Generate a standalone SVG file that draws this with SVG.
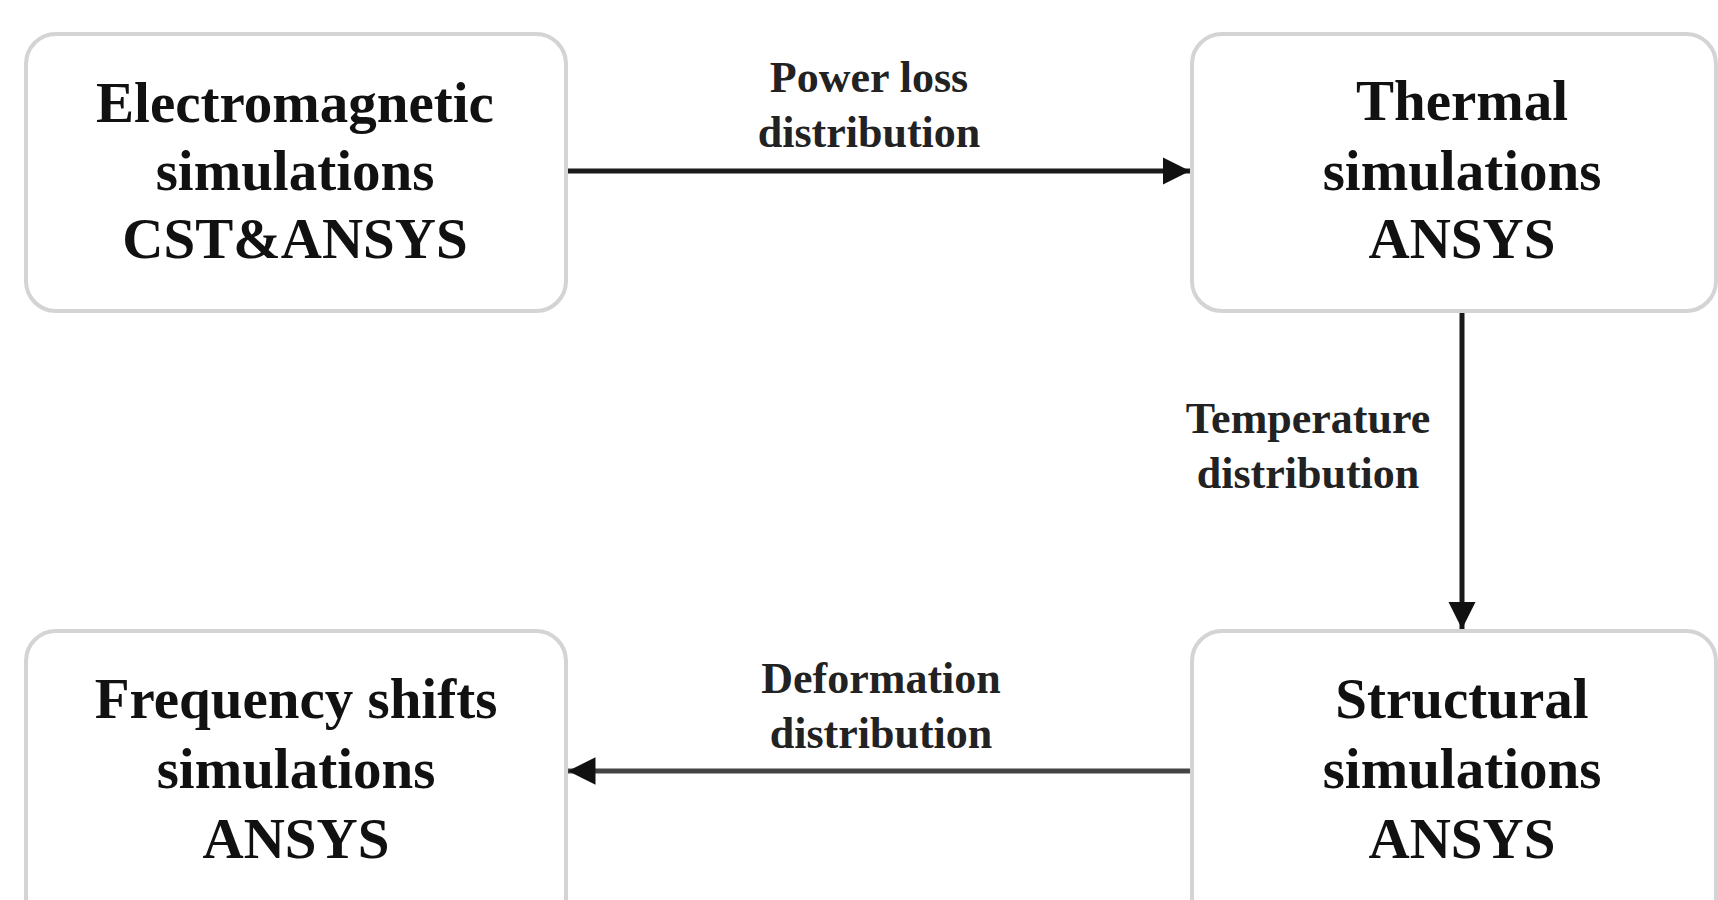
<svg xmlns="http://www.w3.org/2000/svg" width="1718" height="900" viewBox="0 0 1718 900">
<style>
.box{fill:#fff;stroke:#d4d4d4;stroke-width:4}
.t{font-family:"Liberation Serif","Times New Roman",serif;font-weight:bold;font-size:57px;fill:#111;text-anchor:middle}
.l{font-family:"Liberation Serif","Times New Roman",serif;font-weight:bold;font-size:44px;fill:#222;text-anchor:middle}
.c{fill:none;stroke-width:5}
</style>
<defs>
<marker id="ah" viewBox="0 0 10 10" refX="10" refY="5" markerWidth="5.5" markerHeight="6" markerUnits="strokeWidth" orient="auto">
<path d="M0,0 L10,5 L0,10 Z" fill="#111"/>
</marker>
</defs>
<rect width="1718" height="900" fill="#fff"/>
<g id="connectors">
<line class="c" x1="566" y1="171" x2="1190" y2="171" stroke="#1a1a1a" marker-end="url(#ah)"/>
<line class="c" x1="1462" y1="311" x2="1462" y2="629" stroke="#1a1a1a" marker-end="url(#ah)"/>
<line class="c" x1="1192" y1="771" x2="568" y2="771" stroke="#444" marker-end="url(#ah)"/>
<text class="l" x="869" y="92">Power loss</text>
<text class="l" x="869" y="147">distribution</text>
<text class="l" x="1308" y="433">Temperature</text>
<text class="l" x="1308" y="488">distribution</text>
<text class="l" x="881" y="693">Deformation</text>
<text class="l" x="881" y="748">distribution</text>
</g>
<g id="em">
<rect class="box" x="26" y="34" width="540" height="277" rx="30"/>
<text class="t" x="295" y="122">Electromagnetic</text>
<text class="t" x="295" y="190">simulations</text>
<text class="t" x="295" y="258">CST&amp;ANSYS</text>
</g>
<g id="thermal">
<rect class="box" x="1192" y="34" width="524" height="277" rx="30"/>
<text class="t" x="1462" y="120">Thermal</text>
<text class="t" x="1462" y="190">simulations</text>
<text class="t" x="1462" y="258">ANSYS</text>
</g>
<g id="structural">
<rect class="box" x="1192" y="631" width="524" height="300" rx="30"/>
<text class="t" x="1462" y="718">Structural</text>
<text class="t" x="1462" y="788">simulations</text>
<text class="t" x="1462" y="858">ANSYS</text>
</g>
<g id="frequency">
<rect class="box" x="26" y="631" width="540" height="300" rx="30"/>
<text class="t" x="296" y="718">Frequency shifts</text>
<text class="t" x="296" y="788">simulations</text>
<text class="t" x="296" y="858">ANSYS</text>
</g>
</svg>
